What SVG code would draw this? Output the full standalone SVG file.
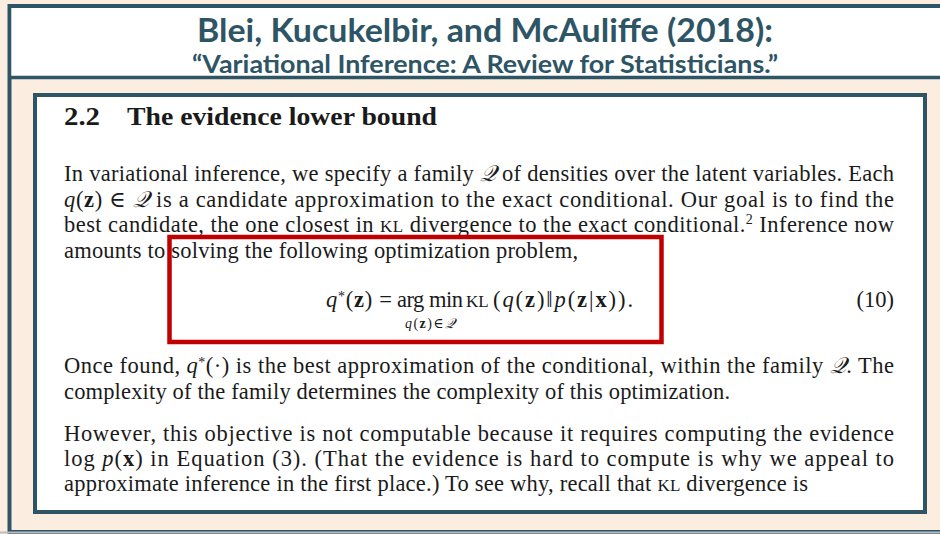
<svg xmlns="http://www.w3.org/2000/svg" width="940" height="534" viewBox="0 0 940 534">
<style>
.t{font-family:"Liberation Serif","DejaVu Serif",serif;font-size:22.5px;fill:#1a1a1a}
.i{font-style:italic}
.b{font-weight:bold}
.sc{font-size:17px}
.h{font-size:26px;font-weight:bold}
.sub{font-size:14px}
.sup{font-size:14px}
.ttl{font-family:Lato,"Open Sans","Liberation Sans",sans-serif;font-weight:bold;fill:#2E5565;text-anchor:middle}
.t1{font-size:32px}
.t2{font-size:24px}
</style>
<rect x="0" y="0" width="940" height="534" fill="#FBEEE1"/>
<g id="frame">
<rect x="9.5" y="6" width="960" height="526" fill="#FBEEE1" stroke="#2E5565" stroke-width="4"/>
<rect x="11.5" y="8" width="940" height="68" fill="#FFFFFF"/>
<line x1="9.5" y1="77.5" x2="940" y2="77.5" stroke="#2E5565" stroke-width="3.5"/>
<line x1="0" y1="532.5" x2="940" y2="532.5" stroke="#BDBDBD" stroke-width="2"/>
</g>
<g id="title">
<text class="ttl t1" x="485" y="42" textLength="576" lengthAdjust="spacingAndGlyphs">Blei, Kucukelbir, and McAuliffe (2018):</text>
<text class="ttl t2" x="485" y="73" textLength="586" lengthAdjust="spacingAndGlyphs">“Variational Inference: A Review for Statisticians.”</text>
</g>
<g id="paper">
<rect x="35" y="95" width="890" height="417" fill="#FFFFFF" stroke="#2E5565" stroke-width="4"/>
<text class="t h" x="64" y="125" textLength="36" lengthAdjust="spacingAndGlyphs">2.2</text>
<text class="t h" x="127" y="125" textLength="310" lengthAdjust="spacingAndGlyphs">The evidence lower bound</text>
<text class="t" x="64" y="181" textLength="830">In variational inference, we specify a family <tspan class="i">𝒬</tspan> of densities over the latent variables. Each</text>
<text class="t" x="64" y="206.5" textLength="830"><tspan class="i">q</tspan>(<tspan class="b">z</tspan>) ∈ <tspan class="i">𝒬</tspan> is a candidate approximation to the exact conditional.  Our goal is to find the</text>
<text class="t" x="64" y="232" textLength="830">best candidate, the one closest in <tspan class="sc">KL</tspan> divergence to the exact conditional.<tspan class="sup" dy="-8">2</tspan><tspan dy="8"> Inference now</tspan></text>
<text class="t" x="64" y="258" textLength="514">amounts to solving the following optimization problem,</text>
<text class="t" x="326" y="307" textLength="66"><tspan class="i">q</tspan><tspan class="sup" dy="-6">*</tspan><tspan dy="6">(</tspan><tspan class="b">z</tspan>) =</text>
<text class="t" x="397" y="307" textLength="66">arg min</text>
<text class="t sc" x="466" y="307">KL</text>
<text class="t" x="493" y="307" textLength="140">(<tspan class="i">q</tspan>(<tspan class="b">z</tspan>)‖<tspan class="i">p</tspan>(<tspan class="b">z</tspan>|<tspan class="b">x</tspan>)).</text>
<text class="t sub" x="405" y="328" textLength="50"><tspan class="i">q</tspan>(<tspan class="b">z</tspan>)∈<tspan class="i">𝒬</tspan></text>
<text class="t" x="894" y="307" text-anchor="end">(10)</text>
<text class="t" x="64" y="373" textLength="830">Once found, <tspan class="i">q</tspan><tspan class="sup" dy="-6">*</tspan><tspan dy="6">(·) is the best approximation of the conditional, within the family </tspan><tspan class="i">𝒬</tspan>. The</text>
<text class="t" x="64" y="399" textLength="666">complexity of the family determines the complexity of this optimization.</text>
<text class="t" x="64" y="441" textLength="830">However, this objective is not computable because it requires computing the evidence</text>
<text class="t" x="64" y="466" textLength="830">log <tspan class="i">p</tspan>(<tspan class="b">x</tspan>) in Equation (3).  (That the evidence is hard to compute is why we appeal to</text>
<text class="t" x="64" y="491" textLength="744">approximate inference in the first place.) To see why, recall that <tspan class="sc">KL</tspan> divergence is</text>
</g>
<g id="highlight">
<rect x="169.5" y="237" width="492" height="105" fill="none" stroke="#C00000" stroke-width="4.5"/>
</g>
</svg>
